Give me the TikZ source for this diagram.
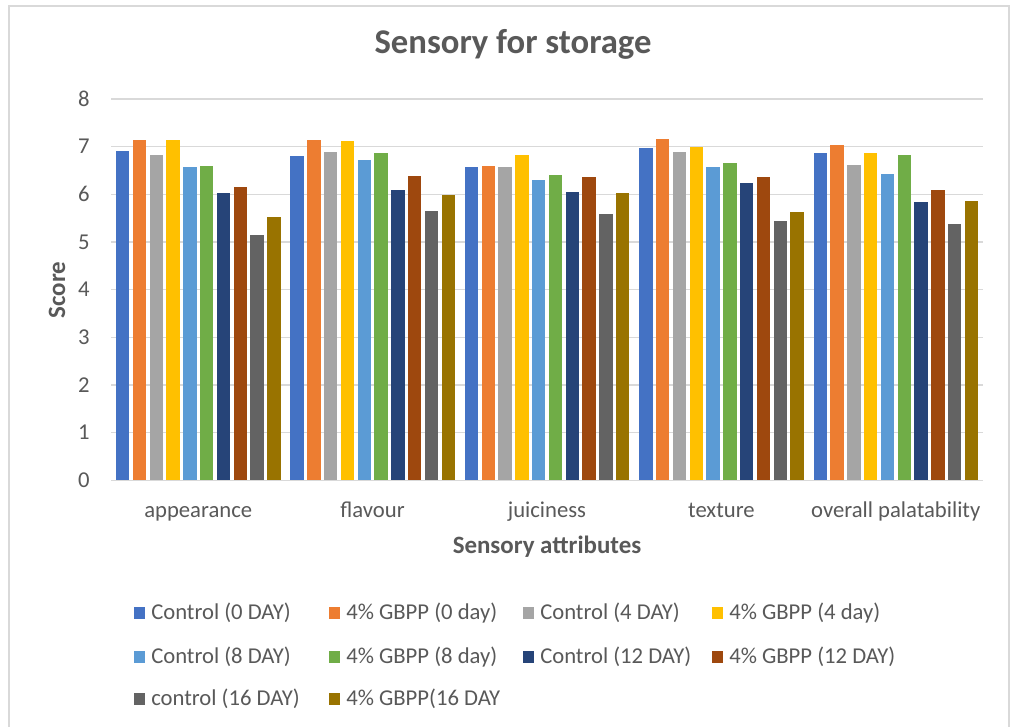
\documentclass[tikz,border=0pt]{standalone}
\usepackage{fontspec}
\setmainfont{Carlito}
\definecolor{c0}{HTML}{4472C4}
\definecolor{c1}{HTML}{ED7D31}
\definecolor{c2}{HTML}{A5A5A5}
\definecolor{c3}{HTML}{FFC000}
\definecolor{c4}{HTML}{5B9BD5}
\definecolor{c5}{HTML}{70AD47}
\definecolor{c6}{HTML}{264478}
\definecolor{c7}{HTML}{9E480E}
\definecolor{c8}{HTML}{636363}
\definecolor{c9}{HTML}{997300}
\definecolor{txt}{HTML}{595959}
\definecolor{gridc}{HTML}{D9D9D9}
\begin{document}
\begin{tikzpicture}[x=0.75pt,y=-0.75pt,
  lbl/.style={text=txt,font=\fontsize{17}{20}\selectfont,inner sep=0pt},
  ttl/.style={text=txt,font=\bfseries\fontsize{26}{30}\selectfont,inner sep=0pt},
  axt/.style={text=txt,font=\bfseries\fontsize{18.7}{22}\selectfont,inner sep=0pt},
  gline/.style={draw=gridc,line width=1.1pt},
  legsq/.style={minimum size=8.3pt,inner sep=0pt,draw=none}]
\useasboundingbox (0,0) rectangle (1010,727);
\fill[white] (0,0) rectangle (1010,727);
\draw[gridc,line width=0.9pt] (9,727) -- (9,6) -- (1009,6) -- (1009,727);
% title
\node[ttl,anchor=mid] (title) at (513,50) {Sensory for storage};
% grid and y labels
\foreach \k in {0,...,8}{
  \draw[gline] (111,{480.3-47.66*\k}) -- (983,{480.3-47.66*\k});
  \node[lbl,anchor=east] (y\k) at (90,{480.3-47.66*\k}) {\k};
}
% bars
\foreach \g/\vals in {
  0/{6.91,7.13,6.82,7.13,6.57,6.59,6.02,6.15,5.15,5.52},
  1/{6.81,7.13,6.88,7.11,6.73,6.86,6.09,6.38,5.64,5.99},
  2/{6.57,6.59,6.57,6.82,6.30,6.40,6.05,6.36,5.58,6.03},
  3/{6.98,7.16,6.88,7.00,6.57,6.66,6.24,6.36,5.45,5.62},
  4/{6.86,7.04,6.62,6.86,6.43,6.82,5.84,6.10,5.38,5.87}}{
  \foreach \v [count=\i from 0] in \vals{
    \fill[c\i] ({111+174.4*\g+5+16.8*\i},480.3) rectangle ({111+174.4*\g+5+16.8*\i+13.3},{480.3-47.66*\v});
  }
}
% category labels
\node[lbl,anchor=mid] (cat0) at ({111+174.4*0.5},514) {appearance};
\node[lbl,anchor=mid] (cat1) at ({111+174.4*1.5},514) {flavour};
\node[lbl,anchor=mid] (cat2) at ({111+174.4*2.5},514) {juiciness};
\node[lbl,anchor=mid] (cat3) at ({111+174.4*3.5},514) {texture};
\node[lbl,anchor=mid] (cat4) at ({111+174.4*4.5},514) {overall palatability};
% axis titles
\node[axt,anchor=mid] (xt) at (547,550) {Sensory attributes};
\node[axt,rotate=90] (yt) at (57,290) {Score};
% legend
\foreach \x/\y/\c/\t in {
  134/613/c0/{Control (0 DAY)},
  329/613/c1/{4\% GBPP (0 day)},
  523/613/c2/{Control (4 DAY)},
  712/613/c3/{4\% GBPP (4 day)},
  134/657/c4/{Control (8 DAY)},
  329/657/c5/{4\% GBPP (8 day)},
  523/657/c6/{Control (12 DAY)},
  712/657/c7/{4\% GBPP (12 DAY)},
  134/699/c8/{control (16 DAY)},
  329/699/c9/{4\% GBPP(16 DAY}}{
  \node[legsq,fill=\c] (sq\c) at ({\x+5.5},\y) {};
  \node[lbl,anchor=west] (lt\c) at ({\x+17},\y) {\t};
}
\end{tikzpicture}
\end{document}
